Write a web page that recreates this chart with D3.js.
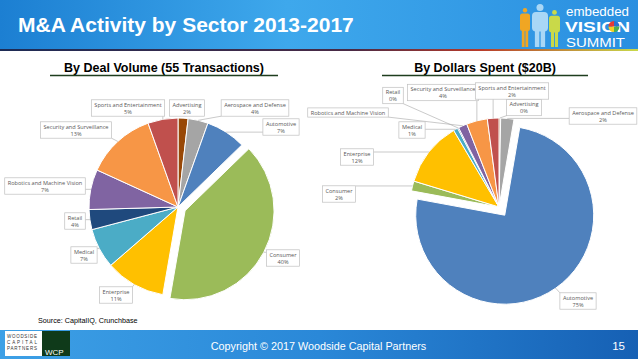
<!DOCTYPE html>
<html>
<head>
<meta charset="utf-8">
<script src="https://cdn.jsdelivr.net/npm/d3@7"></script>
<style>
  body { margin: 0; background: #fff; }
  svg { display: block; }
</style>
</head>
<body>
<svg id="chart" width="638" height="359"></svg>
<script>
/* Daten */
const sectors = ["Advertising", "Aerospace and Defense", "Automotive", "Consumer", "Enterprise",
                 "Medical", "Retail", "Robotics and Machine Vision", "Security and Surveillance",
                 "Sports and Entertainment"];
const dealCounts  = [1, 2, 4, 22, 6, 4, 2, 4, 7, 3];                       // 55 deals
const dollarShare = [0.3, 2.4, 75.2, 1.8, 11.8, 0.8, 0.2, 1.6, 3.8, 2.1];  // % of $20B
const sectorColors = ["#984807", "#a5a5a5", "#4f81bd", "#9bbb59", "#ffc000",
                      "#4bacc6", "#1f497d", "#8064a2", "#f79646", "#c0504d"];

const pageTitle   = "M&A Activity by Sector 2013-2017";
const leftTitle   = "By Deal Volume (55 Transactions)";
const rightTitle  = "By Dollars Spent ($20B)";
const sourceText  = "Source: CapitalIQ, Crunchbase";
const footerText  = "Copyright \u00a9 2017 Woodside Capital Partners";
const pageNumber  = "15";

/* Layout */
const radius = 89;
const leftLabelPos = [[187,108],[255,108],[281,127],[283,258],[116,295],
                      [84,255],[75,221],[45,186],[76,130],[128,108]];
const rightLabelPos = [[524,107.5],[603,116],[578,301],[339,194],[357,157],
                       [412,130],[393,95.5],[348,112.5],[443,92.5],[512,91]];
const font = "Liberation Sans, Arial, sans-serif";

const svg = d3.select("#chart");
const defs = svg.append("defs");

/* Header */
const hg = defs.append("linearGradient").attr("id", "hdr");
hg.append("stop").attr("offset", "0%").attr("stop-color", "#1c7fd2");
hg.append("stop").attr("offset", "45%").attr("stop-color", "#3ea8ec");
hg.append("stop").attr("offset", "100%").attr("stop-color", "#2a8fe0");
svg.append("rect").attr("x", 0).attr("y", 0).attr("width", 638).attr("height", 49).attr("fill", "url(#hdr)");

const lg = defs.append("linearGradient").attr("id", "hline");
lg.append("stop").attr("offset", "0%").attr("stop-color", "#1d2b55");
lg.append("stop").attr("offset", "55%").attr("stop-color", "#4a2a45");
lg.append("stop").attr("offset", "75%").attr("stop-color", "#b83a2a");
lg.append("stop").attr("offset", "100%").attr("stop-color", "#c9d94a");
svg.append("rect").attr("x", 0).attr("y", 49).attr("width", 638).attr("height", 2).attr("fill", "url(#hline)");

svg.append("text").attr("x", 18).attr("y", 32)
  .attr("font-family", font)
  .attr("font-weight", "bold").attr("font-size", 21).attr("fill", "#fff")
  .text(pageTitle);

// Logo (embedded vision summit): three people + words
const logo = svg.append("g");
function person(x, top, w, col) {
  const hr = w * 0.22;
  logo.append("circle").attr("cx", x + w / 2).attr("cy", top + hr).attr("r", hr).attr("fill", col);
  logo.append("rect").attr("x", x).attr("y", top + hr * 2 + 1).attr("width", w).attr("height", (47 - top) * 0.45)
    .attr("rx", w * 0.25).attr("fill", col);
  const legTop = top + hr * 2 + (47 - top) * 0.4;
  logo.append("rect").attr("x", x + w * 0.18).attr("y", legTop).attr("width", w * 0.28).attr("height", 47 - legTop).attr("fill", col);
  logo.append("rect").attr("x", x + w * 0.54).attr("y", legTop).attr("width", w * 0.28).attr("height", 47 - legTop).attr("fill", col);
}
person(520, 8, 10, "#f0a623");
person(532, 4, 16, "#a9d7f6");
person(549, 10, 11, "#c9d949");

logo.append("text").attr("x", 566).attr("y", 16).attr("font-family", font)
  .attr("font-size", 12).attr("fill", "#fff")
  .attr("textLength", 63).attr("lengthAdjust", "spacingAndGlyphs").text("embedded");
logo.append("text").attr("x", 565).attr("y", 32).attr("font-family", font)
  .attr("font-weight", "bold").attr("font-size", 15).attr("fill", "#fff")
  .attr("textLength", 65).attr("lengthAdjust", "spacingAndGlyphs").text("VISION");
logo.append("text").attr("x", 566).attr("y", 47).attr("font-family", font)
  .attr("font-size", 12).attr("fill", "#fff")
  .attr("textLength", 59).attr("lengthAdjust", "spacingAndGlyphs").text("SUMMIT");
const oArc = d3.arc().innerRadius(0).outerRadius(5.5);
["#2a6fd0", "#4caf50", "#f5d020", "#e53935"].forEach((c, i) => {
  logo.append("path").attr("transform", "translate(614,26.5)")
    .attr("d", oArc({startAngle: i * Math.PI / 2, endAngle: (i + 1) * Math.PI / 2})).attr("fill", c);
});

/* Section titles */
function sectionTitle(text, cx, x0, x1) {
  svg.append("text").attr("x", cx).attr("y", 72).attr("text-anchor", "middle")
    .attr("font-family", font)
    .attr("font-weight", "bold").attr("font-size", 12.5).attr("fill", "#000")
    .text(text);
  svg.append("line").attr("x1", x0).attr("x2", x1).attr("y1", 75.5).attr("y2", 75.5)
    .attr("stroke", "#1e3d1e").attr("stroke-width", 1.3);
}
sectionTitle(leftTitle, 164, 50, 278);
sectionTitle(rightTitle, 485, 382, 588);

/* Pies */
function drawPie(values, cx, cy, explodeIdx, offset, labelPos, fmt, oneLine) {
  const g = svg.append("g").attr("transform", `translate(${cx},${cy})`);
  const pie = d3.pie().sort(null).value(d => d);
  const arcs = pie(values);
  const arc = d3.arc().innerRadius(0).outerRadius(radius);
  const shift = d => {
    if (d.index !== explodeIdx) return [0, 0];
    const a = (d.startAngle + d.endAngle) / 2;
    return [Math.sin(a) * offset, -Math.cos(a) * offset];
  };

  g.selectAll("path.slice").data(arcs).join("path")
    .attr("class", "slice")
    .attr("d", arc)
    .attr("transform", d => `translate(${shift(d)})`)
    .attr("fill", d => sectorColors[d.index])
    .attr("stroke", "#fff").attr("stroke-width", 1);

  arcs.forEach(d => {
    const [lx, ly] = labelPos[d.index];
    const px = lx - cx, py = ly - cy;
    const lines = oneLine.includes(d.index) ? [sectors[d.index]] : [sectors[d.index], fmt(d)];
    const lab = g.append("g").attr("transform", `translate(${px},${py})`);
    const rect = lab.append("rect");
    let w = 0;
    lines.forEach((t, i) => {
      const tx = lab.append("text").attr("x", 0)
        .attr("y", (i - (lines.length - 1) / 2) * 7.2 + 2.2)
        .attr("text-anchor", "middle")
        .attr("font-family", "Open Sans, Liberation Sans, sans-serif")
        .attr("font-size", 5.6).attr("fill", "#595959").text(t);
      w = Math.max(w, tx.node().getComputedTextLength());
    });
    const bw = w + 6, bh = lines.length * 7.2 + 2;
    rect.attr("x", -bw / 2).attr("y", -bh / 2).attr("width", bw).attr("height", bh)
      .attr("fill", "#fff").attr("stroke", "#bfbfbf").attr("stroke-width", 0.7);

    // leader line from slice edge to the nearest point of the box
    const a = (d.startAngle + d.endAngle) / 2;
    const s = shift(d);
    const ax = Math.sin(a) * radius + s[0], ay = -Math.cos(a) * radius + s[1];
    const nx = Math.max(px - bw / 2, Math.min(px + bw / 2, ax));
    const ny = Math.max(py - bh / 2, Math.min(py + bh / 2, ay));
    if (Math.hypot(nx - ax, ny - ay) > 2) {
      g.insert("line", "g").attr("x1", ax).attr("y1", ay).attr("x2", nx).attr("y2", ny)
        .attr("stroke", "#a6a6a6").attr("stroke-width", 0.6);
    }
  });
}

const dealTotal = d3.sum(dealCounts);
drawPie(dealCounts, 178, 207, 3, 8, leftLabelPos,
        d => Math.round(d.value / dealTotal * 100) + "%", []);
drawPie(dollarShare, 499, 207, 2, 10, rightLabelPos,
        d => Math.round(d.value) + "%", [7]);

/* Source */
svg.append("text").attr("x", 38).attr("y", 323)
  .attr("font-family", font)
  .attr("font-size", 7.2).attr("fill", "#000").text(sourceText);

/* Footer */
const fg = defs.append("linearGradient").attr("id", "ftr");
fg.append("stop").attr("offset", "0%").attr("stop-color", "#3da0e6");
fg.append("stop").attr("offset", "50%").attr("stop-color", "#2a88d8");
fg.append("stop").attr("offset", "100%").attr("stop-color", "#1660b4");
svg.append("rect").attr("x", 0).attr("y", 330).attr("width", 638).attr("height", 29).attr("fill", "url(#ftr)");

svg.append("rect").attr("x", 5).attr("y", 331).attr("width", 37).attr("height", 25).attr("fill", "#fff");
svg.append("rect").attr("x", 42).attr("y", 331).attr("width", 28).attr("height", 25).attr("fill", "#0f3a1a");
["WOODSIDE", "CAPITAL", "PARTNERS"].forEach((t, i) => {
  svg.append("text").attr("x", 7).attr("y", 338 + i * 6)
    .attr("font-family", font)
    .attr("font-size", 4.5).attr("fill", "#333").attr("textLength", 30).text(t);
});
svg.append("text").attr("x", 45).attr("y", 355)
  .attr("font-family", font)
  .attr("font-size", 8).attr("fill", "#fff").text("WCP");

svg.append("text").attr("x", 318.5).attr("y", 350).attr("text-anchor", "middle")
  .attr("font-family", font)
  .attr("font-size", 10.8).attr("fill", "#fff").text(footerText);
svg.append("text").attr("x", 625).attr("y", 350).attr("text-anchor", "end")
  .attr("font-family", font)
  .attr("font-size", 11.5).attr("fill", "#fff").text(pageNumber);
</script>
</body>
</html>
